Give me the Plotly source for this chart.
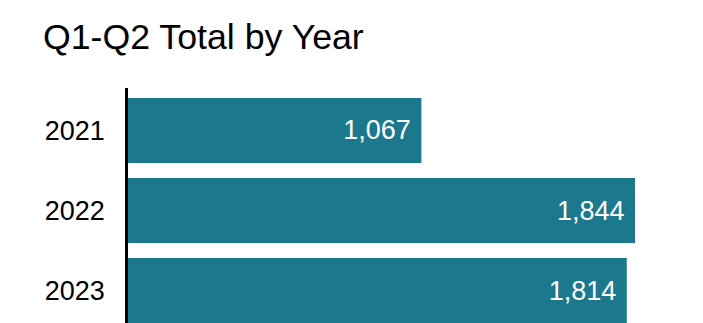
import plotly.graph_objects as go

years = ["2021", "2022", "2023"]
totals = [1067, 1844, 1814]
value_labels = ["1,067", "1,844", "1,814"]

bar_color = "#1B788D"
font_family = "Arial, Liberation Sans, sans-serif"

fig = go.Figure(
    go.Bar(
        y=years,
        x=totals,
        orientation="h",
        marker=dict(color=bar_color, line=dict(width=0)),
        text=[t + "&nbsp;" for t in value_labels],
        textposition="inside",
        insidetextanchor="end",
        textfont=dict(color="white", size=27, family=font_family),
        hoverinfo="skip",
    )
)

fig.update_layout(
    width=703,
    height=323,
    margin=dict(l=128, r=42, t=88, b=0, pad=0),
    paper_bgcolor="white",
    plot_bgcolor="white",
    bargap=0.1875,
    showlegend=False,
    font=dict(family=font_family, color="black"),
    title=dict(
        text="Q1-Q2 Total by Year",
        font=dict(size=35.7, family=font_family, color="black"),
        xref="container",
        yref="container",
        x=43 / 703,
        xanchor="left",
        y=1 - 36.5 / 323,
        yanchor="middle",
    ),
    uniformtext=dict(mode=False),
)

fig.update_xaxes(
    range=[0, 1938.5],
    showgrid=False,
    zeroline=False,
    showticklabels=False,
    showline=False,
    ticks="",
    fixedrange=True,
)
fig.update_yaxes(
    type="category",
    range=[2.406, -0.531],
    showgrid=False,
    zeroline=False,
    showline=True,
    linecolor="black",
    linewidth=2.6,
    ticks="",
    ticklabelstandoff=15,
    tickfont=dict(size=27, family=font_family, color="black"),
    fixedrange=True,
)

fig.write_html("out.html")
